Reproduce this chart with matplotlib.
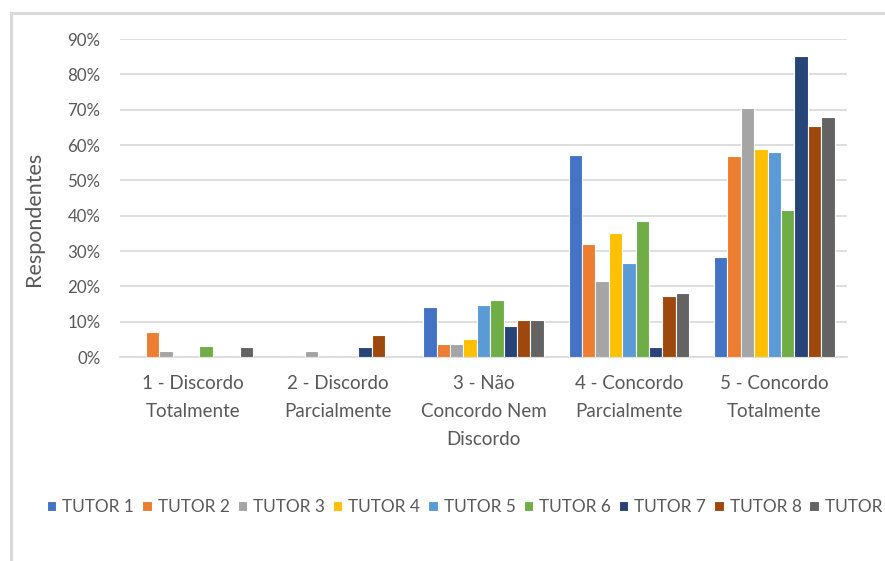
import matplotlib
matplotlib.use("Agg")
import matplotlib.pyplot as plt
from matplotlib.patches import Rectangle
from matplotlib.ticker import PercentFormatter
import numpy as np

plt.rcParams['font.family'] = ['Lato', 'DejaVu Sans']

categories = ["1 - Discordo\nTotalmente", "2 - Discordo\nParcialmente",
              "3 - Não\nConcordo Nem\nDiscordo", "4 - Concordo\nParcialmente",
              "5 - Concordo\nTotalmente"]
series_names = ["TUTOR 1", "TUTOR 2", "TUTOR 3", "TUTOR 4", "TUTOR 5",
                "TUTOR 6", "TUTOR 7", "TUTOR 8", "TUTOR 9"]
tutor1 = [0.0, 0.0, 14.2, 57.2, 28.4]
tutor2 = [7.2, 0.0, 3.7, 32.1, 57.0]
tutor3 = [1.7, 1.7, 3.7, 21.6, 70.5]
tutor4 = [0.0, 0.0, 5.2, 35.1, 59.0]
tutor5 = [0.0, 0.0, 14.7, 26.6, 58.0]
tutor6 = [3.2, 0.0, 16.1, 38.6, 41.5]
tutor7 = [0.0, 2.7, 8.7, 2.7, 85.1]
tutor8 = [0.0, 6.1, 10.6, 17.2, 65.5]
tutor9 = [2.7, 0.0, 10.6, 18.1, 68.0]
series_values = [tutor1, tutor2, tutor3, tutor4, tutor5, tutor6, tutor7, tutor8, tutor9]
colors = ["#4472C4", "#ED7D31", "#A5A5A5", "#FFC000", "#5B9BD5",
          "#70AD47", "#264478", "#9E480E", "#636363"]
yticks = [0, 10, 20, 30, 40, 50, 60, 70, 80, 90]

W, H = 885, 561
fig = plt.figure(figsize=(W / 100, H / 100), dpi=100)

# outer chart frame (cropped at right and bottom)
fig.patches.append(Rectangle((11 / W, -0.05), 1.2, 1 - 13 / H + 0.05,
                             transform=fig.transFigure, fill=False,
                             edgecolor="#D9D9D9", linewidth=2.2, zorder=0))

ax = fig.add_axes([120 / W, 1 - 357 / H, 727 / W, 318 / H])
n = len(series_names)
x = np.arange(len(categories))
w = 1 / (n + 1.85)
for j, (name, vals, c) in enumerate(zip(series_names, series_values, colors)):
    ax.bar(x + (j - (n - 1) / 2) * w, vals, width=w, color=c, label=name,
           edgecolor="white", linewidth=0.8, zorder=3)

ax.set_xlim(-0.5, len(categories) - 0.5)
ax.set_ylim(0, 90)
ax.set_yticks(yticks)
ax.yaxis.set_major_formatter(PercentFormatter(decimals=0))
ax.grid(axis="y", color="#D9D9D9", linewidth=1.2, zorder=0)
for s in ["top", "right", "left"]:
    ax.spines[s].set_visible(False)
ax.spines["bottom"].set_color("#D9D9D9")
ax.spines["bottom"].set_linewidth(1.2)
ax.tick_params(axis="both", length=0, colors="#595959")
ax.tick_params(axis="y", pad=14, labelsize=12.2)
ax.set_xticks(x)
ax.set_xticklabels(categories, linespacing=1.78, fontsize=13.5)
ax.tick_params(axis="x", pad=13)
ax.set_ylabel("Respondentes", color="#595959", fontsize=15.5)
ax.yaxis.set_label_coords(-0.105, 0.434)

leg = fig.legend(loc="center left", bbox_to_anchor=(47 / W, 1 - 507 / H),
                 ncol=n, frameon=False, fontsize=12.4, handlelength=0.55,
                 handleheight=0.55, handletextpad=0.35, columnspacing=0.46,
                 borderaxespad=0, borderpad=0)
for t in leg.get_texts():
    t.set_color("#595959")

fig.savefig("out.png", dpi=100)
